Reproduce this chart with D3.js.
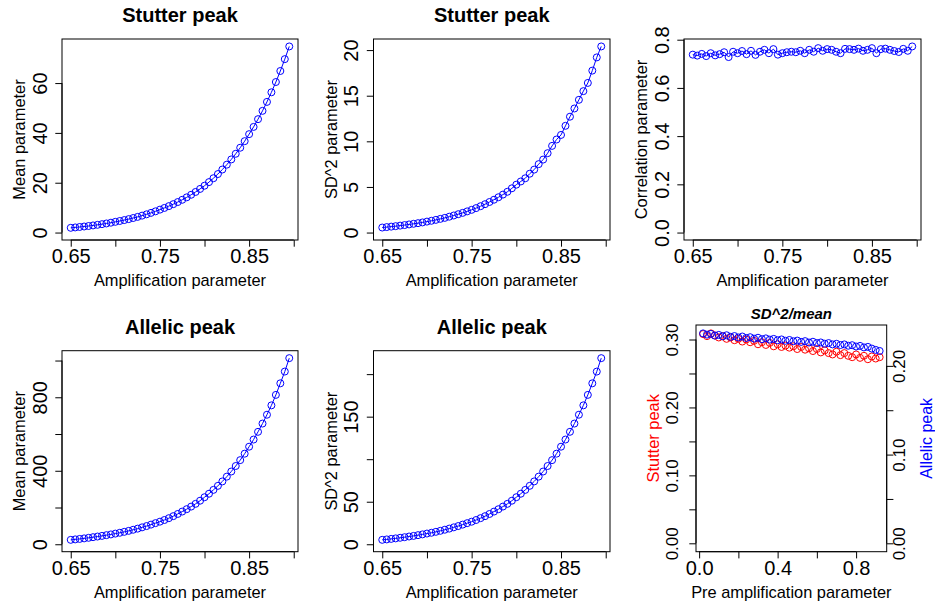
<!DOCTYPE html>
<html><head><meta charset="utf-8">
<script src="https://cdn.jsdelivr.net/npm/d3@7"></script>
<style>
html,body{margin:0;padding:0;background:#fff;}
svg{display:block;font-family:"Liberation Sans",Arial,Helvetica,sans-serif;}
</style></head>
<body><svg id="c" width="935" height="607"></svg>
<script>
// ---- data ----
const ampParam = [0.650,0.655,0.660,0.665,0.670,0.675,0.680,0.685,0.690,0.695,
  0.700,0.705,0.710,0.715,0.720,0.725,0.730,0.735,0.740,0.745,
  0.750,0.755,0.760,0.765,0.770,0.775,0.780,0.785,0.790,0.795,
  0.800,0.805,0.810,0.815,0.820,0.825,0.830,0.835,0.840,0.845,
  0.850,0.855,0.860,0.865,0.870,0.875,0.880,0.885,0.890,0.895];
const stutterMean = [1.90,2.06,2.24,2.43,2.63,2.86,3.10,3.37,3.65,3.96,
  4.30,4.64,5.01,5.40,5.83,6.29,6.79,7.32,7.90,8.52,
  9.20,9.88,10.61,11.40,12.25,13.15,14.13,15.17,16.30,17.51,
  18.80,20.25,21.81,23.49,25.30,27.25,29.35,31.62,34.05,36.68,
  39.50,42.40,45.51,48.85,52.44,56.29,60.42,64.85,69.61,74.70];
const stutterSD2 = [0.55,0.60,0.65,0.70,0.76,0.82,0.89,0.96,1.03,1.11,
  1.20,1.29,1.39,1.50,1.61,1.74,1.87,2.01,2.16,2.32,
  2.49,2.68,2.89,3.11,3.35,3.60,3.87,4.16,4.47,4.85,
  5.25,5.60,5.95,6.45,6.90,7.50,8.00,8.70,9.50,10.20,
  10.70,11.70,12.70,13.60,14.55,15.50,16.40,17.75,19.20,20.40];
const correlation = [0.738,0.734,0.741,0.732,0.744,0.735,0.740,0.748,0.728,0.750,
  0.744,0.753,0.740,0.754,0.737,0.750,0.758,0.744,0.761,0.738,
  0.744,0.748,0.750,0.748,0.754,0.744,0.758,0.750,0.765,0.754,
  0.761,0.758,0.750,0.744,0.762,0.761,0.758,0.763,0.754,0.758,
  0.765,0.744,0.761,0.763,0.758,0.753,0.749,0.762,0.754,0.772];
const allelicMean = [24,26.5,29,32,35,38.5,42,45.5,49.5,53.5,
  58,62.5,67.5,73,79,85,92,99,107,115,
  123,132,142,153,165,178,191,205,220,237,
  256,275,296,318,342,368,396,426,458,493,
  531,570,612,657,705,756,813,876,940,1013];
const allelicSD2 = [5.2,5.7,6.3,6.9,7.6,8.3,9.1,9.8,10.7,11.6,
  12.6,13.5,14.6,15.8,17.1,18.4,19.9,21.4,23.1,24.8,
  26.5,28.5,30.7,33.0,35.6,38.4,41.2,44.3,47.5,51.2,
  55.3,59.4,63.9,68.7,73.9,79.5,85.5,92.0,98.9,106.5,
  114.7,123.1,132.2,141.9,152.3,163.3,175.6,189.2,203.0,218.8];
const preAmpParam = [0.02,0.04,0.06,0.08,0.10,0.12,0.14,0.16,0.18,0.20,
  0.22,0.24,0.26,0.28,0.30,0.32,0.34,0.36,0.38,0.40,
  0.42,0.44,0.46,0.48,0.50,0.52,0.54,0.56,0.58,0.60,
  0.62,0.64,0.66,0.68,0.70,0.72,0.74,0.76,0.78,0.80,
  0.82,0.84,0.86,0.88,0.90,0.92];
const stutterRatio = [0.308,0.305,0.309,0.306,0.303,0.305,0.301,0.303,0.299,0.301,
  0.297,0.300,0.296,0.298,0.293,0.296,0.292,0.295,0.290,0.293,
  0.289,0.291,0.288,0.290,0.286,0.289,0.285,0.287,0.283,0.286,
  0.281,0.284,0.280,0.278,0.282,0.277,0.280,0.276,0.274,0.278,
  0.273,0.276,0.271,0.275,0.272,0.274];
const allelicRatio = [0.2366,0.2352,0.2360,0.2341,0.2349,0.2333,0.2345,0.2327,0.2336,0.2320,
  0.2331,0.2314,0.2323,0.2307,0.2317,0.2301,0.2310,0.2296,0.2304,0.2289,
  0.2298,0.2283,0.2292,0.2277,0.2285,0.2270,0.2279,0.2263,0.2272,0.2257,
  0.2264,0.2250,0.2257,0.2242,0.2249,0.2235,0.2242,0.2227,0.2233,0.2218,
  0.2225,0.2208,0.2214,0.2195,0.2180,0.2168];

const ampTicks = [0.65,0.70,0.75,0.80,0.85,0.90];
const ampTickLabels = ["0.65","","0.75","","0.85",""];
const preTicks = [0,0.2,0.4,0.6,0.8];
const preTickLabels = ["0.0","","0.4","","0.8"];
const meanSTicks = [0,20,40,60], meanSLabels = ["0","20","40","60"];
const sd2STicks = [0,5,10,15,20], sd2SLabels = ["0","5","10","15","20"];
const corTicks = [0,0.2,0.4,0.6,0.8], corLabels = ["0.0","0.2","0.4","0.6","0.8"];
const meanATicks = [0,200,400,600,800,1000], meanALabels = ["0","","400","","800",""];
const sd2ATicks = [0,50,100,150,200], sd2ALabels = ["0","50","","150",""];
const ratioLTicks = [0,0.05,0.10,0.15,0.20,0.25,0.30], ratioLLabels = ["0.00","","0.10","","0.20","","0.30"];
const ratioRTicks = [0,0.05,0.10,0.15,0.20], ratioRLabels = ["0.00","","0.10","","0.20"];

// ---- drawing ----
const svg = d3.select("#c");
const BLUE = "#0000FF", RED = "#FF0000";
const TICK = 6.7, R = 3.5;
const FONT = "'Liberation Sans',Arial,sans-serif";
const pad = ([a,b]) => [a-0.04*(b-a), b+0.04*(b-a)];

function drawAxisLine(g, orient, scale, ticks){
  const a = scale(ticks[0]), b = scale(ticks[ticks.length-1]);
  const l = g.append("line").attr("stroke","#000").attr("stroke-width",1);
  if(orient==="x") l.attr("x1",a).attr("x2",b).attr("y1",0).attr("y2",0);
  else l.attr("y1",a).attr("y2",b).attr("x1",0).attr("x2",0);
}

function panel(cfg){
  const [x0,y0,x1,y1] = cfg.box;
  const g = svg.append("g");
  const x = d3.scaleLinear().domain(pad(cfg.xdom)).range([x0,x1]);
  const y = d3.scaleLinear().domain(pad(cfg.ydom)).range([y1,y0]);
  const yr = cfg.right ? d3.scaleLinear().domain(pad(cfg.right.dom)).range([y1,y0]) : null;

  cfg.series.forEach(s=>{
    const yy = s.right ? yr : y;
    const pts = cfg.xs.map((v,i)=>[v,s.values[i]]);
    if(s.line){
      g.append("path").datum(pts)
        .attr("d", d3.line().x(d=>x(d[0])).y(d=>yy(d[1])))
        .attr("fill","none").attr("stroke",s.color).attr("stroke-width",1);
    }
    g.selectAll(null).data(pts).enter().append("circle")
      .attr("cx",d=>x(d[0])).attr("cy",d=>yy(d[1])).attr("r",R)
      .attr("fill","none").attr("stroke",s.color).attr("stroke-width",1);
  });

  g.append("rect").attr("x",x0).attr("y",y0).attr("width",x1-x0).attr("height",y1-y0)
    .attr("fill","none").attr("stroke","#000").attr("stroke-width",1);

  // bottom axis
  const xa = g.append("g").attr("transform",`translate(0,${y1})`)
    .call(d3.axisBottom(x).tickValues(cfg.xticks).tickFormat((d,i)=>cfg.xlabels[i]).tickSize(TICK).tickSizeOuter(0));
  xa.select(".domain").remove();
  xa.selectAll(".tick line").attr("stroke","#000");
  xa.selectAll(".tick text").attr("y",23.3).attr("dy",0).attr("fill","#000")
    .style("font-size","20px").style("font-family",FONT);
  drawAxisLine(xa, "x", x, cfg.xticks);

  // left axis
  const lOff = cfg.ylabOff || 15.3;
  const ya = g.append("g").attr("transform",`translate(${x0},0)`)
    .call(d3.axisLeft(y).tickValues(cfg.yticks).tickFormat((d,i)=>cfg.ylabels[i]).tickSize(TICK).tickSizeOuter(0));
  ya.select(".domain").remove();
  ya.selectAll(".tick line").attr("stroke","#000");
  ya.selectAll(".tick text").attr("x",0).attr("dy",0)
    .attr("transform",`translate(${-lOff},0) rotate(-90)`)
    .attr("text-anchor","middle").attr("fill","#000")
    .style("font-size",(cfg.yFont||20)+"px").style("font-family",FONT);
  drawAxisLine(ya, "y", y, cfg.yticks);

  // right axis
  if(cfg.right){
    const r = cfg.right;
    const ra = g.append("g").attr("transform",`translate(${x1},0)`)
      .call(d3.axisRight(yr).tickValues(r.ticks).tickFormat((d,i)=>r.labels[i]).tickSize(TICK).tickSizeOuter(0));
    ra.select(".domain").remove();
    ra.selectAll(".tick line").attr("stroke","#000");
    ra.selectAll(".tick text").attr("x",0).attr("dy",0)
      .attr("transform",`translate(18.3,0) rotate(-90)`)
      .attr("text-anchor","middle").attr("fill","#000")
      .style("font-size",(cfg.yFont||20)+"px").style("font-family",FONT);
    drawAxisLine(ra, "y", yr, r.ticks);
  }

  // titles
  const cx = (x0+x1)/2, cy = (y0+y1)/2;
  if(cfg.title){
    g.append("text").attr("x",cx).attr("y",cfg.titleY).attr("text-anchor","middle")
      .style("font-size",cfg.titleSize+"px").style("font-weight","bold")
      .style("font-style",cfg.titleItalic?"italic":"normal").attr("fill","#000").text(cfg.title);
  }
  g.append("text").attr("x",cx).attr("y",y1+46).attr("text-anchor","middle")
    .style("font-size","16.4px").attr("fill","#000").text(cfg.xlab);
  g.append("text").attr("transform",`translate(${x0-37},${cy}) rotate(-90)`).attr("text-anchor","middle")
    .style("font-size","16.4px").attr("fill",cfg.ylabColor||"#000").text(cfg.ylab);
  if(cfg.right){
    g.append("text").attr("transform",`translate(${cfg.right.labX},${cy}) rotate(-90)`).attr("text-anchor","middle")
      .style("font-size","16px").attr("fill",cfg.right.labColor).text(cfg.right.lab);
  }
}

function rng(a){ return [0, d3.max(a)]; }

panel({box:[62,39,298,240], xs:ampParam, xdom:d3.extent(ampParam), ydom:rng(stutterMean),
  xticks:ampTicks, xlabels:ampTickLabels, yticks:meanSTicks, ylabels:meanSLabels,
  series:[{values:stutterMean,color:BLUE,line:true}],
  title:"Stutter peak", titleY:21.7, titleSize:20, xlab:"Amplification parameter", ylab:"Mean parameter"});
panel({box:[373.5,39,610,240], xs:ampParam, xdom:d3.extent(ampParam), ydom:rng(stutterSD2),
  xticks:ampTicks, xlabels:ampTickLabels, yticks:sd2STicks, ylabels:sd2SLabels,
  series:[{values:stutterSD2,color:BLUE,line:true}],
  title:"Stutter peak", titleY:21.7, titleSize:20, xlab:"Amplification parameter", ylab:"SD^2 parameter"});
panel({box:[684,39,921,240], xs:ampParam, xdom:d3.extent(ampParam), ydom:rng(correlation),
  xticks:ampTicks, xlabels:ampTickLabels, yticks:corTicks, ylabels:corLabels,
  series:[{values:correlation,color:BLUE,line:true}],
  xlab:"Amplification parameter", ylab:"Correlation parameter"});
panel({box:[62,350.7,298,551.7], xs:ampParam, xdom:d3.extent(ampParam), ydom:rng(allelicMean),
  xticks:ampTicks, xlabels:ampTickLabels, yticks:meanATicks, ylabels:meanALabels,
  series:[{values:allelicMean,color:BLUE,line:true}],
  title:"Allelic peak", titleY:334, titleSize:20, xlab:"Amplification parameter", ylab:"Mean parameter"});
panel({box:[373.5,350.7,610,551.7], xs:ampParam, xdom:d3.extent(ampParam), ydom:rng(allelicSD2),
  xticks:ampTicks, xlabels:ampTickLabels, yticks:sd2ATicks, ylabels:sd2ALabels,
  series:[{values:allelicSD2,color:BLUE,line:true}],
  title:"Allelic peak", titleY:334, titleSize:20, xlab:"Amplification parameter", ylab:"SD^2 parameter"});
panel({box:[696,325,886.7,551.7], xs:preAmpParam, xdom:d3.extent(preAmpParam), ydom:rng(stutterRatio),
  xticks:preTicks, xlabels:preTickLabels, yticks:ratioLTicks, ylabels:ratioLLabels,
  yFont:17, ylabOff:17.7,
  right:{dom:rng(allelicRatio), ticks:ratioRTicks, labels:ratioRLabels, lab:"Allelic peak", labColor:BLUE, labX:932},
  series:[{values:stutterRatio,color:RED,line:false},{values:allelicRatio,color:BLUE,line:false,right:true}],
  title:"SD^2/mean", titleY:318.5, titleSize:15, titleItalic:true,
  xlab:"Pre amplification parameter", ylab:"Stutter peak", ylabColor:RED});
</script></body></html>
